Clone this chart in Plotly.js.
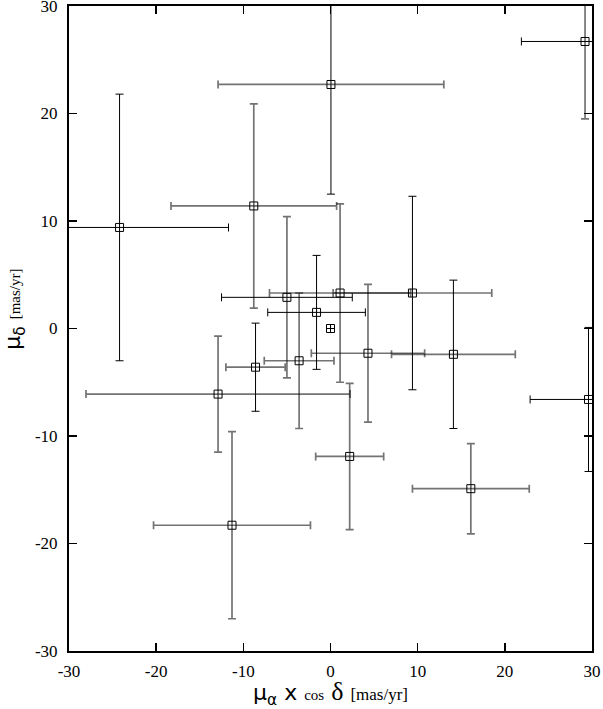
<!DOCTYPE html>
<html>
<head>
<meta charset="utf-8">
<script src="https://cdn.plot.ly/plotly-3.0.1.min.js"></script>
<style>
  body { margin: 0; background: #fff; }
  #chart { width: 603px; height: 709px; }
</style>
</head>
<body>
<div id="chart"></div>
<script>
// proper motions [mas/yr]
var pmRA   = [-24.2, -8.8, 0.05, 29.2, 1.1, 9.4, -5.0, -1.6, 0.0, 4.3, 14.1, -3.6, -8.6, -12.9, 2.2, 16.1, 29.6, -11.3];
var pmDec  = [9.4, 11.4, 22.7, 26.7, 3.3, 3.3, 2.9, 1.5, 0.0, -2.3, -2.4, -3.0, -3.6, -6.1, -11.9, -14.9, -6.6, -18.3];
var errRA  = [12.5, 9.5, 12.95, 7.3, 8.1, 9.1, 7.5, 5.6, 0, 6.5, 7.1, 4.0, 3.4, 15.15, 3.9, 6.7, 6.7, 9.0];
var errDec = [12.4, 9.5, 10.2, 7.2, 8.3, 9.0, 7.5, 5.3, 0, 6.4, 6.9, 6.3, 4.1, 5.4, 6.8, 4.2, 6.7, 8.7];
// line tone of each bar: k = black, g = grey
var toneRA  = ['k', 'g', 'g', 'k', 'g', 'g', 'k', 'k', 'k', 'g', 'g', 'g', 'g', 'g', 'g', 'g', 'k', 'g'];
var toneDec = ['k', 'g', 'k', 'g', 'g', 'k', 'g', 'k', 'k', 'g', 'k', 'g', 'k', 'g', 'g', 'g', 'k', 'g'];

var tickVals = [-30, -20, -10, 0, 10, 20, 30];
var tickText = ['-30', '-20', '-10', '0', '10', '20', '30'];

var serif = '"Liberation Serif", "Times New Roman", Times, serif';

function barStyle(tone, val) {
	var grey = tone == 'g';
	return {
		type: 'data',
		array: [val],
		visible: val > 0,
		color: grey ? 'rgba(0,0,0,0.55)' : '#000',
		thickness: grey ? 1.7 : 1,
		width: 4
	};
}

var data = [];
for (var i = 0; i < pmRA.length; i++) {
	data.push({
		x: [pmRA[i]],
		y: [pmDec[i]],
		type: 'scatter',
		mode: 'markers',
		marker: {
			symbol: errRA[i] > 0 ? 'square-open' : 'square-cross-open',
			size: 8,
			color: '#000',
			line: { width: 1, color: '#000' }
		},
		error_x: barStyle(toneRA[i], errRA[i]),
		error_y: barStyle(toneDec[i], errDec[i]),
		hoverinfo: 'x+y'
	});
}

var axisCommon = {
	range: [-30, 30],
	tickvals: tickVals,
	ticktext: tickText,
	ticks: 'inside',
	ticklen: 8,
	tickwidth: 1.5,
	tickcolor: '#000',
	showline: true,
	linewidth: 2,
	linecolor: '#000',
	mirror: 'ticks',
	showgrid: false,
	zeroline: false,
	ticklabeloverflow: 'allow',
	tickfont: { family: serif, size: 17, color: '#000' }
};

var layout = {
	width: 603,
	height: 709,
	margin: { l: 69, r: 11, t: 6, b: 58 },
	paper_bgcolor: '#fff',
	plot_bgcolor: '#fff',
	showlegend: false,
	xaxis: Object.assign({}, axisCommon, {
		ticklabelstandoff: 4,
		title: {
			text: 'μ<sub>α</sub> x <span style="font-family:Liberation Serif;font-size:15px">cos</span> ' +
				'<span style="font-family:Liberation Serif;font-size:26px">δ</span> ' +
				'<span style="font-family:Liberation Serif;font-size:17px">[mas/yr]</span>',
			font: { family: 'DejaVu Sans', size: 22, color: '#000' },
			standoff: 6
		}
	}),
	yaxis: Object.assign({}, axisCommon, {
		ticklabelstandoff: 6
	}),
	annotations: [{
		text: 'μ<sub>δ</sub> <span style="font-family:Liberation Serif;font-size:15px">[mas/yr]</span>',
		font: { family: 'DejaVu Sans', size: 22, color: '#000' },
		textangle: -90,
		xref: 'paper', yref: 'paper',
		x: -0.104, y: 0.53,
		xanchor: 'center', yanchor: 'middle',
		showarrow: false
	}]
};

Plotly.newPlot('chart', data, layout, { displayModeBar: false, staticPlot: true });
</script>
</body>
</html>
